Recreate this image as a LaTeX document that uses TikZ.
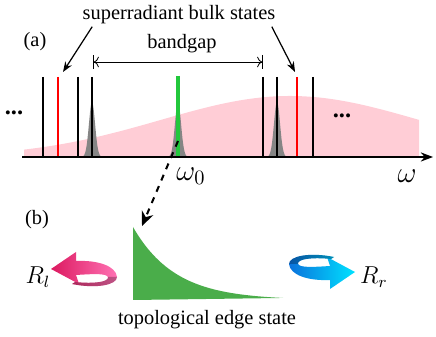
\documentclass[tikz,border=0pt]{standalone}
\usepackage{fontspec}
\setmainfont{Liberation Serif}
\usepackage{xcolor}
\usetikzlibrary{arrows.meta, positioning, calc}
\definecolor{cBand}{HTML}{FFCDD6}
\definecolor{cPeak}{HTML}{858585}
\definecolor{cLine}{HTML}{22C83C}
\definecolor{cEdge}{HTML}{4AAD4A}
\definecolor{cPinkA}{HTML}{DC1A60}
\definecolor{cPinkB}{HTML}{FF72B4}
\definecolor{cBlueA}{HTML}{0A72DC}
\definecolor{cBlueB}{HTML}{00E2FF}
\tikzstyle{lbl}   = [inner sep=1pt, font=\normalsize]
\tikzstyle{mlbl}  = [inner sep=1pt, font=\Large]
\tikzstyle{rlbl}  = [inner sep=1pt, font=\large]
\tikzstyle{bulk}  = [line width=1.1pt]
\tikzstyle{arrow} = [semithick, -{Stealth[length=5pt]}]
\tikzset{swirl/.pic={
  \path[pic actions] (33,0) -- (8,17) -- (8,8)
    .. controls (-14,9) and (-32,3) .. (-33,-8)
    .. controls (-33,-16) and (-12,-20) .. (12,-15) -- (9,-13)
    .. controls (-10,-15) and (-25,-13) .. (-24,-8)
    .. controls (-22,-4) and (-8,-5) .. (8,-6) -- (5,-15) -- cycle;
  \fill[black, opacity=0.25] (-33,-8)
    .. controls (-33,-16) and (-12,-20) .. (12,-15) -- (9,-13)
    .. controls (-10,-15) and (-25,-13) .. (-24,-8) -- cycle;
}}

\begin{document}
\begin{tikzpicture}[x=0.49pt, y=-0.49pt]
\useasboundingbox (0,0) rectangle (436,337);
% (a) spectrum
\fill[cBand] (24,157) -- plot[domain=24:419, samples=80] (\x,{157-61*exp(-((\x-290)/183)^2)}) -- (419,157) -- cycle;
\foreach \c in {92,178,277}
  \fill[cPeak] plot[domain=\c-10:\c+10, samples=41] (\x,{157-55*exp(-((\x-\c)/4.3)^2)}) -- cycle;
\foreach \xx/\col in {43/black,58/red,78/black,92/black,263/black,277/black,297/red,313/black}
  \draw[bulk, \col] (\xx,77) -- (\xx,157);
\draw[line width=1.5pt, cLine] (178,76) -- (178,157);

\coordinate (o) at (22,157);
\coordinate (wend) at (433,157);
\draw[line width=0.7pt, -{Stealth[length=6pt]}] (o) -- (wend);

\node[lbl] (sup) at (179,15) {superradiant bulk states};
\node[lbl] (a) at (35,42) {(a)};
\node[lbl] (gap) at (182,44) {bandgap};
\node[lbl, font=\large] (dl) at (14,113) {\textbf{...}};
\node[lbl, font=\large] (dr) at (342,116) {\textbf{...}};
\node[mlbl] (w0) at (191,176) {$\omega_0$};
\node[mlbl] (w) at (407,176) {$\omega$};

\coordinate (gL) at (93,62);
\coordinate (gR) at (263,62);
\draw[{Bar[width=7pt]To[]}-{To[]Bar[width=7pt]}] (gL) -- (gR);

\coordinate (rl) at (63,72);
\coordinate (rr) at (295,72);
\draw[arrow] ($(sup.south west)+(12,0)$) -- (rl);
\draw[arrow] ($(sup.south east)+(-6,0)$) -- (rr);

% (b) edge state
\node[lbl] (b) at (37,220) {(b)};
\fill[cEdge] (133,227) -- plot[domain=133:283, samples=60] (\x,{300-73*exp(-(\x-133)/42)}) -- (133,300) -- cycle;
\node[lbl] (edge) at (207,320) {topological edge state};

\coordinate (pk) at (178,141);
\coordinate (et) at (142,226);
\draw[dashed, line width=1pt, -{Stealth[length=7pt, width=6pt]}] (pk) -- (et);

\pic[left color=cPinkA, right color=cPinkB, rotate=180] at (84,269) {swirl};
\pic[left color=cBlueA, right color=cBlueB] at (322,272) {swirl};
\node[rlbl] (Rl) at (38,277) {$R_l$};
\node[rlbl] (Rr) at (374,277) {$R_r$};
\end{tikzpicture}
\end{document}
